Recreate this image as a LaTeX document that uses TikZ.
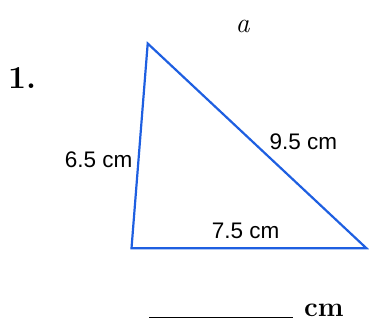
\documentclass[tikz,border=0pt]{standalone}
\usepackage{fontspec}
\newfontfamily\labfont{Liberation Sans}
\definecolor{triblue}{RGB}{30,95,225}
\tikzset{
  side/.style={draw=triblue, line width=2.2pt, line join=miter},
  lab/.style={inner sep=0pt, font=\labfont\fontsize{22.5}{24}\selectfont},
}
\begin{document}
\begin{tikzpicture}[x=1pt,y=-1pt]
\useasboundingbox (0,0) rectangle (369,322);
\coordinate (A) at (147.7,43.5);
\coordinate (B) at (131.5,248.3);
\coordinate (C) at (366.5,248.3);
\draw[side] (A) -- (B) -- (C) -- cycle;
\node[inner sep=0pt, anchor=base west, font=\bfseries\fontsize{32}{34}\selectfont] (num) at (8,88.3) {1.};
\node[inner sep=0pt, anchor=base, font=\itshape\fontsize{28}{30}\selectfont] (name) at (242.5,32.7) {a};
\node[lab, anchor=base east] (l1) at (132.7,167.7) {6.5 cm};
\node[lab, anchor=base west] (l2) at (269.3,149.3) {9.5 cm};
\node[lab, anchor=base west] (l3) at (211.7,238.3) {7.5 cm};
\coordinate (u1) at (149,317.5);
\coordinate (u2) at (293,317.5);
\draw[line width=1.8pt] (u1) -- (u2);
\node[inner sep=0pt, anchor=base west, font=\bfseries\fontsize{27.5}{30}\selectfont] (unit) at (304,316.8) {cm};
\end{tikzpicture}
\end{document}
